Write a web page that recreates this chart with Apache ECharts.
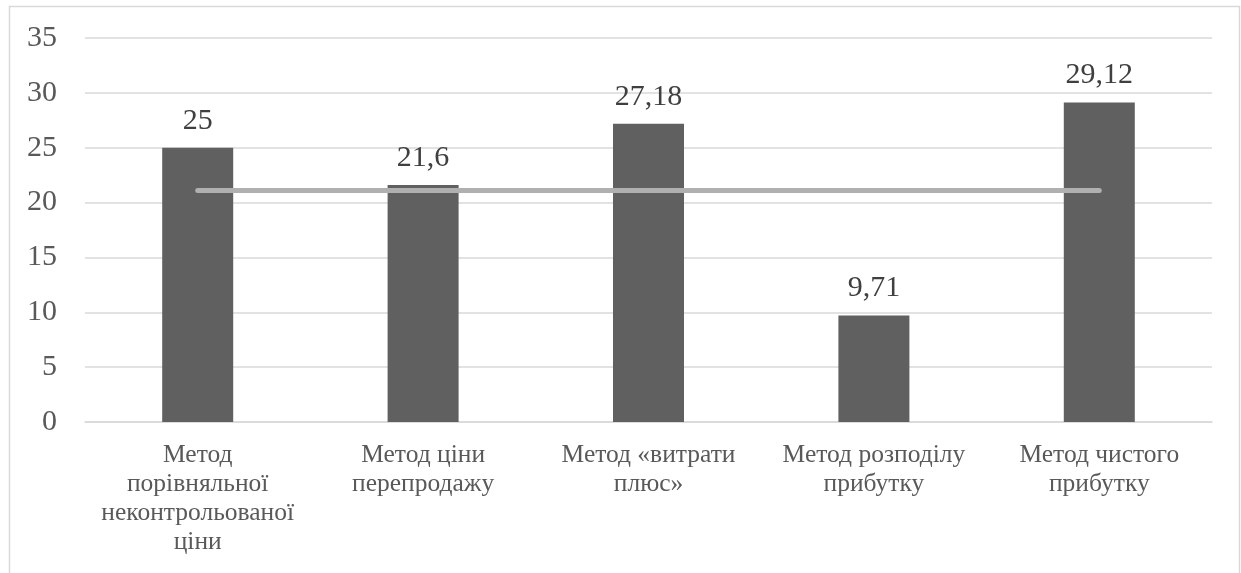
<!DOCTYPE html>
<html>
<head>
<meta charset="utf-8">
<script src="https://cdn.jsdelivr.net/npm/echarts@6/dist/echarts.min.js"></script>
<style>
  html, body { margin: 0; padding: 0; background: #fff; }
  #chart { width: 1241px; height: 573px; }
</style>
</head>
<body>
<div id="chart"></div>
<script>
// Transfer-pricing methods and their values
const categories = [
  'Метод\nпорівняльної\nнеконтрольованої\nціни',
  'Метод ціни\nперепродажу',
  'Метод «витрати\nплюс»',
  'Метод розподілу\nприбутку',
  'Метод чистого\nприбутку'
];
const values = [25, 21.6, 27.18, 9.71, 29.12];
// Reference level drawn across all methods
const levelValues = [21.1, 21.1, 21.1, 21.1, 21.1];
const yTicks = { min: 0, max: 35, interval: 5 };

const fontFamily = '"Liberation Serif", "DejaVu Serif", serif';

const chart = echarts.init(document.getElementById('chart'), null, { renderer: 'canvas' });

chart.setOption({
  animation: false,
  backgroundColor: '#ffffff',
  graphic: [{
    type: 'rect',
    shape: { x: 9.5, y: 6.5, width: 1230, height: 620 },
    style: { fill: 'none', stroke: '#d9d9d9', lineWidth: 1.5 },
    silent: true,
    z: -1
  }],
  grid: { left: 85, right: 29, top: 38, bottom: 151, containLabel: false },
  xAxis: {
    type: 'category',
    data: categories,
    axisTick: { show: false },
    axisLine: { show: true, lineStyle: { color: '#d9d9d9', width: 1.5 } },
    axisLabel: {
      interval: 0,
      margin: 19,
      color: '#595959',
      fontFamily: fontFamily,
      fontSize: 25.5,
      lineHeight: 29
    }
  },
  yAxis: {
    type: 'value',
    min: yTicks.min,
    max: yTicks.max,
    interval: yTicks.interval,
    axisLine: { show: false },
    axisTick: { show: false },
    splitLine: { lineStyle: { color: '#d9d9d9', width: 1.5 } },
    axisLabel: {
      margin: 28,
      color: '#595959',
      fontFamily: fontFamily,
      fontSize: 30
    }
  },
  series: [
    {
      type: 'bar',
      data: values,
      barCategoryGap: '68.5%',
      itemStyle: { color: '#606060' },
      label: {
        show: true,
        position: 'top',
        distance: 12,
        color: '#404040',
        fontFamily: fontFamily,
        fontSize: 30,
        formatter: p => String(p.value).replace('.', ',')
      },
      z: 2
    },
    {
      type: 'line',
      data: levelValues,
      symbol: 'none',
      lineStyle: { color: '#b0b0b0', width: 5, cap: 'round' },
      z: 3
    }
  ]
});
</script>
</body>
</html>
